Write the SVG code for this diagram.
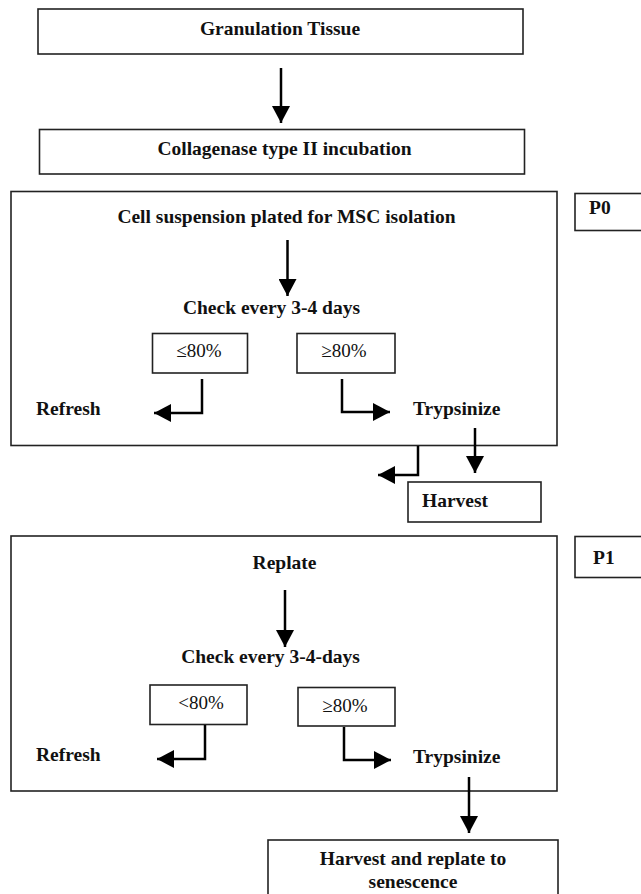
<svg xmlns="http://www.w3.org/2000/svg" width="641" height="894" viewBox="0 0 641 894">
<style>
.box{fill:#fff;stroke:#222;stroke-width:1.6}
.t{font-family:"Liberation Serif","Times New Roman",serif;font-weight:bold;font-size:19.5px;fill:#111}
.p{font-family:"Liberation Serif","Times New Roman",serif;font-size:19px;fill:#111}
.c{text-anchor:middle}
.con{fill:none;stroke:#000;stroke-width:2.5}
</style>
<defs>
<marker id="ah" markerUnits="userSpaceOnUse" markerWidth="18" markerHeight="18" viewBox="0 0 18 18" refX="17" refY="9" orient="auto">
<path d="M0,0 L17,9 L0,18 z" fill="#000"/>
</marker>
</defs>
<rect width="641" height="894" fill="#fff"/>
<g id="stage-p0"><rect class="box" x="11" y="191.5" width="546" height="254"/></g>
<g id="stage-p1"><rect class="box" x="11" y="536" width="546" height="255"/></g>
<g id="granulation"><rect class="box" x="38" y="9" width="485" height="45"/><text class="t c" x="280" y="35">Granulation Tissue</text></g>
<g id="collagenase"><rect class="box" x="39.5" y="129.5" width="485" height="44.5"/><text class="t c" x="284.5" y="155">Collagenase type II incubation</text></g>
<g id="cell-suspension"><text class="t c" x="286.5" y="223">Cell suspension plated for MSC isolation</text></g>
<g id="check-p0"><text class="t c" x="271.5" y="313.5">Check every 3-4 days</text></g>
<g id="le80-p0"><rect class="box" x="152.5" y="333.5" width="95" height="39.5"/><text class="p c" x="199" y="357">≤80%</text></g>
<g id="ge80-p0"><rect class="box" x="297" y="333.5" width="98" height="39.5"/><text class="p c" x="344" y="357">≥80%</text></g>
<g id="refresh-p0"><text class="t" x="36" y="415">Refresh</text></g>
<g id="trypsinize-p0"><text class="t" x="413" y="415">Trypsinize</text></g>
<g id="harvest"><rect class="box" x="408" y="482" width="133" height="40"/><text class="t" x="422" y="507">Harvest</text></g>
<g id="label-p0"><rect class="box" x="575" y="193.5" width="90" height="37"/><text class="t" x="589" y="214">P0</text></g>
<g id="replate"><text class="t c" x="284.5" y="568.5">Replate</text></g>
<g id="check-p1"><text class="t c" x="270.5" y="662.5">Check every 3-4-days</text></g>
<g id="lt80-p1"><rect class="box" x="150" y="685" width="97" height="39.5"/><text class="p c" x="201" y="708.5">&lt;80%</text></g>
<g id="ge80-p1"><rect class="box" x="298" y="687.5" width="97" height="38.5"/><text class="p c" x="345" y="712">≥80%</text></g>
<g id="refresh-p1"><text class="t" x="36" y="761">Refresh</text></g>
<g id="trypsinize-p1"><text class="t" x="413" y="763">Trypsinize</text></g>
<g id="label-p1"><rect class="box" x="575" y="536.5" width="90" height="41"/><text class="t" x="593" y="563.5">P1</text></g>
<g id="final"><rect class="box" x="268" y="840" width="290" height="70"/><text class="t c" x="413" y="865">Harvest and replate to</text><text class="t c" x="413" y="888">senescence</text></g>
<g id="connectors">
<path class="con" d="M281,68 V123" marker-end="url(#ah)"/>
<path class="con" d="M287.5,240 V296" marker-end="url(#ah)"/>
<path class="con" d="M202,379 V413 H154" marker-end="url(#ah)"/>
<path class="con" d="M342,379 V412 H390" marker-end="url(#ah)"/>
<path class="con" d="M475,428 V473" marker-end="url(#ah)"/>
<path class="con" d="M418,446 V475 H378" marker-end="url(#ah)"/>
<path class="con" d="M285,590 V647" marker-end="url(#ah)"/>
<path class="con" d="M205,725 V759 H157" marker-end="url(#ah)"/>
<path class="con" d="M344,727 V760 H391" marker-end="url(#ah)"/>
<path class="con" d="M469,777 V833" marker-end="url(#ah)"/>
</g>
</svg>
